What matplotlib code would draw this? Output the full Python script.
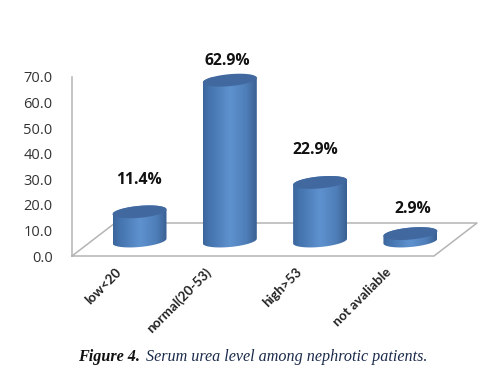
import numpy as np
import matplotlib
matplotlib.use('Agg')
import matplotlib.pyplot as plt
from matplotlib.colors import LinearSegmentedColormap
from matplotlib.patches import Polygon
from matplotlib.transforms import ScaledTranslation

# data
categories = ['low<20', 'normal(20-53)', 'high>53', 'not avaliable']
values = [11.4, 62.9, 22.9, 2.9]
y_ticks = [0, 10, 20, 30, 40, 50, 60, 70]

# how far each label sits above its bar, in pixels
label_lift = [32, 19, 32, 25]
label_shift = [-1, -2, -5, 2]

W, H = 488, 382
X0, X1, Y_TOP, Y_BOT = 72, 478, 77, 256
X_FIRST, X_STEP = 139.5, 90.3
PX_PER_UNIT = (Y_BOT - Y_TOP) / 70.0
BASE_Y = 241  # pixel row of the centre of the bar bases
RX, RY = 27, 6
TILT = np.radians(5)

fig = plt.figure(figsize=(W / 100, H / 100), dpi=100)
ax = fig.add_axes([X0 / W, 1 - Y_BOT / H, (X1 - X0) / W, (Y_BOT - Y_TOP) / H])
ax.set_xlim((X0 - X_FIRST) / X_STEP, (X1 - X_FIRST) / X_STEP)
ax.set_ylim(0, 70)
base_val = (Y_BOT - BASE_Y) / PX_PER_UNIT


def ellipse(cx, v, n=80):
    # tilted ellipse around a category position and a value, in data units
    t = np.linspace(0, 2 * np.pi, n)
    dx = RX * np.cos(t)
    dy = RY * np.sin(t) + dx * np.tan(TILT)
    return cx + dx / X_STEP, v + dy / PX_PER_UNIT


side = LinearSegmentedColormap.from_list('side', [
    (0, '#3c659c'), (0.12, '#4473ad'), (0.5, '#5e92cf'),
    (0.8, '#4f7fb9'), (1, '#3a6093')])
grad = np.linspace(0, 1, 128).reshape(1, -1)

grey = '#b4b4b4'
floor_x = (np.array([X0, 434, 477, 115, X0]) - X_FIRST) / X_STEP
floor_y = (Y_BOT - np.array([256, 256, 223, 223, 256])) / PX_PER_UNIT
ax.plot(floor_x, floor_y, color=grey, lw=1.1, clip_on=False, zorder=1)
ax.plot([floor_x[0]] * 2, [0, 70], color=grey, lw=1.1, clip_on=False, zorder=1)

for i, v in enumerate(values):
    top = base_val + v
    xb, yb = ellipse(i, base_val)
    xt, yt = ellipse(i, top)
    half = RX / X_STEP
    # outline of the cylinder = bottom half of base + top half of the top ellipse
    keep_b = yb <= base_val + (xb - i) * X_STEP * np.tan(TILT) / PX_PER_UNIT
    keep_t = yt >= top + (xt - i) * X_STEP * np.tan(TILT) / PX_PER_UNIT
    order_b = np.argsort(xb[keep_b])
    order_t = np.argsort(xt[keep_t])[::-1]
    outline = np.vstack([
        np.c_[xb[keep_b][order_b], yb[keep_b][order_b]],
        np.c_[xt[keep_t][order_t], yt[keep_t][order_t]]])
    body = Polygon(outline, closed=True, fc='none', ec='none', zorder=2,
                   clip_on=False)
    ax.add_patch(body)
    im = ax.imshow(grad, cmap=side, aspect='auto', zorder=2,
                   extent=[i - half, i + half, 0, top + 4])
    im.set_clip_path(body)
    ax.fill(xt, yt, color='#41699f', lw=0, zorder=3, clip_on=False)
    ax.text(i + label_shift[i] / X_STEP, top + label_lift[i] / PX_PER_UNIT,
            '%.1f%%' % v, ha='center', va='center', fontsize=11.3,
            fontweight='bold', family='Open Sans', color='#111111', zorder=4)

ax.set_xlim((X0 - X_FIRST) / X_STEP, (X1 - X_FIRST) / X_STEP)
ax.set_ylim(0, 70)
ax.set_yticks(y_ticks)
ax.set_yticklabels(['%.1f' % t for t in y_ticks], fontsize=10.5,
                   family='Open Sans', color='#333333')
ax.tick_params(axis='y', length=0, pad=14)
ax.set_xticks(range(len(categories)))
ax.set_xticklabels(categories, rotation=45, ha='right', va='top',
                   rotation_mode='anchor', fontsize=9.6, fontweight='bold',
                   family='Lato', color='#222222')
ax.tick_params(axis='x', length=0, pad=7)
offset = ScaledTranslation(-25 / 100, 0, fig.dpi_scale_trans)
for lab in ax.get_xticklabels():
    lab.set_transform(lab.get_transform() + offset)
for s in ax.spines.values():
    s.set_visible(False)
ax.patch.set_visible(False)

fig.text(78 / W, 1 - 357 / H, 'Figure 4.', family='Liberation Serif',
         fontsize=11.6, fontweight='bold', fontstyle='italic', color='#111111',
         va='center')
fig.text(146 / W, 1 - 357 / H, 'Serum urea level among nephrotic patients.',
         family='Liberation Serif', fontsize=11.6, fontstyle='italic',
         color='#1a2a4a', va='center')

fig.savefig('out.png', dpi=100)
